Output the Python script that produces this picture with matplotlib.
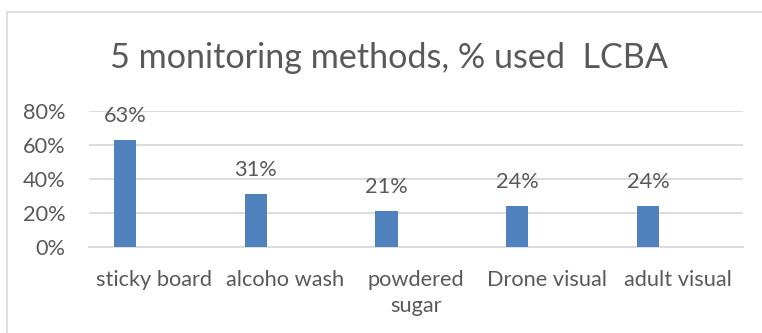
import matplotlib
matplotlib.use("Agg")
import matplotlib.pyplot as plt
from matplotlib.patches import Rectangle
import numpy as np

# Share of respondents using each varroa monitoring method
categories = ["sticky board", "alcoho wash", "powdered\nsugar", "Drone visual", "adult visual"]
values = [0.63, 0.31, 0.21, 0.24, 0.24]
y_ticks = [0.0, 0.2, 0.4, 0.6, 0.8]
y_tick_labels = ["0%", "20%", "40%", "60%", "80%"]
title = "5 monitoring methods, % used  LCBA"

TEXT = "#595959"
GRID = "#D9D9D9"
BAR = "#4F81BD"
FONT = "Lato"
LABEL_SIZE = 15.7

W, H = 762, 333
fig = plt.figure(figsize=(W / 100, H / 100), dpi=100)
fig.patch.set_facecolor("white")

# Chart-area frame (runs off the right and bottom edges)
fig.add_artist(Rectangle((7 / W, -0.1), 1.2, (H - 12) / H + 0.1,
                         transform=fig.transFigure, fill=False,
                         edgecolor=GRID, linewidth=1.2))

left, right = 89 / W, 743 / W
bottom, top = (H - 246.7) / H, (H - 110.6) / H
ax = fig.add_axes([left, bottom, right - left, top - bottom])

x = np.arange(len(categories))
offset = -0.225
ax.bar(x + offset, values, width=0.17, color=BAR, zorder=3)

for xi, v in zip(x, values):
    ax.annotate(f"{round(v * 100)}%", (xi + offset, v), xytext=(0, 24),
                textcoords="offset pixels", ha="center", va="center",
                fontsize=LABEL_SIZE, color=TEXT, family=FONT)

ax.set_xlim(-0.5, len(categories) - 0.5)
ax.set_ylim(0, 0.8)
ax.set_yticks(y_ticks)
ax.set_yticklabels(y_tick_labels, fontsize=LABEL_SIZE, color=TEXT, family=FONT)
ax.set_xticks(x)
ax.set_xticklabels(categories, fontsize=LABEL_SIZE, color=TEXT, family=FONT,
                   linespacing=1.42)
ax.tick_params(axis="both", length=0)
ax.tick_params(axis="x", pad=16.5)
ax.tick_params(axis="y", pad=17)
ax.grid(axis="y", color=GRID, linewidth=1.3, zorder=0)
for s in ["top", "right", "left"]:
    ax.spines[s].set_visible(False)
ax.spines["bottom"].set_color(GRID)
ax.spines["bottom"].set_linewidth(1.3)
ax.set_facecolor("none")

fig.text(389 / W, (H - 58) / H, title, ha="center", va="center",
         fontsize=24.6, color=TEXT, family=FONT)

fig.savefig("out.png", dpi=100, facecolor="white")
